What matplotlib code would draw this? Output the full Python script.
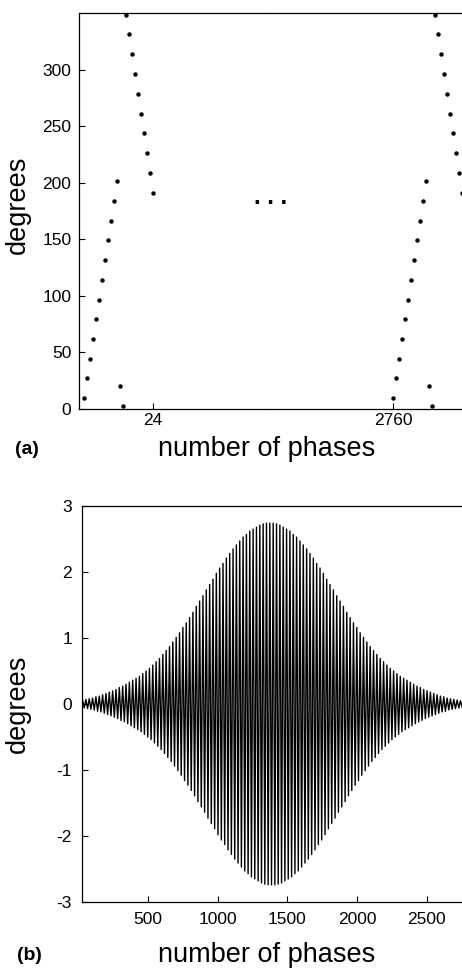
import numpy as np
import matplotlib
matplotlib.use('Agg')
import matplotlib.pyplot as plt

plt.rcParams['font.family'] = ['Liberation Sans', 'DejaVu Sans']
plt.rcParams['axes.unicode_minus'] = False

# (a) phases of the first and the last 24 samples
phase_no_start = list(range(1, 25))
phase_no_end = list(range(2760, 2784))
phase_deg_start = [9.7, 27, 44.5, 62, 79.4, 96.7, 114, 132, 149, 166.6, 184, 201.8,
                   20, 2.6,
                   348, 331, 313.5, 296, 278.5, 261, 243.6, 226, 208.6, 191]
phase_deg_end = [9.7, 27, 44.5, 62, 79.4, 96.7, 114, 132, 149, 166.6, 184, 201.8,
                 20, 2.6,
                 348, 331, 313.5, 296, 278.5, 261, 243.6, 226, 208.6, 191]
ticks_start = [24]
ticks_end = [2760]
yticks_a = [0, 50, 100, 150, 200, 250, 300]

# (b) peak error of every 24-phase cycle
cycle_len = 24
cycle_peak = [0.05, 0.06, 0.07, 0.08, 0.09, 0.11, 0.12, 0.14, 0.16, 0.18,
              0.20, 0.22, 0.25, 0.27, 0.30, 0.33, 0.36, 0.39, 0.42, 0.46,
              0.50, 0.54, 0.59, 0.64, 0.69, 0.75, 0.81, 0.87, 0.94, 1.01,
              1.08, 1.16, 1.23, 1.31, 1.39, 1.48, 1.56, 1.64, 1.73, 1.81,
              1.89, 1.98, 2.06, 2.13, 2.21, 2.28, 2.35, 2.41, 2.47, 2.53,
              2.57, 2.62, 2.65, 2.68, 2.71, 2.73, 2.74, 2.74, 2.74, 2.73,
              2.71, 2.68, 2.65, 2.62, 2.57, 2.53, 2.47, 2.41, 2.35, 2.28,
              2.21, 2.13, 2.06, 1.98, 1.89, 1.81, 1.73, 1.64, 1.56, 1.48,
              1.39, 1.31, 1.23, 1.16, 1.08, 1.01, 0.94, 0.87, 0.81, 0.75,
              0.69, 0.64, 0.59, 0.54, 0.50, 0.46, 0.42, 0.39, 0.36, 0.33,
              0.30, 0.27, 0.25, 0.22, 0.20, 0.18, 0.16, 0.14, 0.12, 0.11,
              0.09, 0.08, 0.07, 0.06, 0.05]
xticks_b = [500, 1000, 1500, 2000, 2500]
yticks_b = [-3, -2, -1, 0, 1, 2, 3]

W, H = 462, 968
fig = plt.figure(figsize=(W/100, H/100), dpi=100)

def box(x0, y0, x1, y1):
    # pixel box -> figure fraction [left, bottom, width, height]
    return [x0/W, 1 - y1/H, (x1 - x0)/W, (y1 - y0)/H]

tick_kw = dict(direction='in', length=4, width=0.8, labelsize=12.5, colors='black')

# ---- panel (a), broken x axis
axl = fig.add_axes(box(79, 13, 270, 409))
axr = fig.add_axes(box(270, 13, 464, 409))
axl.plot(phase_no_start, phase_deg_start, 'o', color='black', ms=3.2, mec='none')
axr.plot(phase_no_end, phase_deg_end, 'o', color='black', ms=3.2, mec='none')
axl.set_xlim(-0.67, 63)
axr.set_xlim(2718.9, 2783.6)
for a in (axl, axr):
    a.set_ylim(0, 350)
    for s in a.spines.values():
        s.set_linewidth(0.9)
    a.tick_params(**tick_kw)
axl.spines['right'].set_visible(False)
axr.spines['left'].set_visible(False)
axr.spines['right'].set_visible(False)
axl.set_xticks(ticks_start)
axr.set_xticks(ticks_end)
axl.set_yticks(yticks_a)
axr.set_yticks([])
axl.tick_params(axis='y', pad=5.5)
axl.tick_params(axis='x', pad=3)
axr.tick_params(axis='x', pad=3)
fig.text(271/W, 1 - 198/H, '. . .', ha='center', va='center', fontsize=17, fontweight='bold')
fig.text(18/W, 1 - 205/H, 'degrees', rotation=90, ha='center', va='center', fontsize=19.5)
fig.text(267/W, 1 - 449/H, 'number of phases', ha='center', va='center', fontsize=19.5)
fig.text(27/W, 1 - 449/H, '(a)', ha='center', va='center', fontsize=14, fontweight='bold')

# ---- panel (b)
axb = fig.add_axes(box(81.7, 506, 463, 902))
starts = np.arange(len(cycle_peak)) * cycle_len
xs = np.column_stack([starts + 6, starts + 18]).ravel()
ys = np.column_stack([cycle_peak, -np.array(cycle_peak)]).ravel()
axb.plot(xs, ys, color='black', lw=1.0)
axb.set_xlim(24, 2760)
axb.set_ylim(-3, 3)
axb.set_xticks(xticks_b)
axb.set_yticks(yticks_b)
for s in axb.spines.values():
    s.set_linewidth(0.9)
axb.spines['right'].set_visible(False)
axb.tick_params(**tick_kw)
axb.tick_params(axis='y', pad=7)
axb.tick_params(axis='x', pad=7)
fig.text(18/W, 1 - 704/H, 'degrees', rotation=90, ha='center', va='center', fontsize=19.5)
fig.text(267/W, 1 - 955/H, 'number of phases', ha='center', va='center', fontsize=19.5)
fig.text(29/W, 1 - 955/H, '(b)', ha='center', va='center', fontsize=14, fontweight='bold')

fig.savefig('out.png', dpi=100)
